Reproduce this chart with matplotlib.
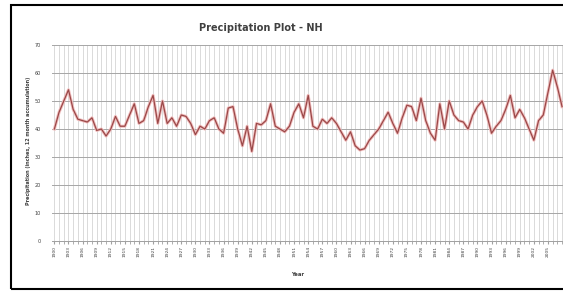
import matplotlib.pyplot as plt
import matplotlib.patches as patches
import numpy as np

# NH precipitation, 12 month accumulation (inches)
years = list(range(1900, 2009))
precip = [40, 46, 50, 54, 47, 43.5, 43, 42.5, 44, 39.5,
          40, 37.5, 40, 44.5, 41, 41, 45, 49, 42, 43,
          48, 52, 42, 50, 42, 44, 41, 45, 44.5, 42,
          38, 41, 40, 43, 44, 40, 38.5, 47.5, 48, 40,
          34, 41, 32, 42, 41.5, 43, 49, 41, 40, 39,
          41, 46, 49, 44, 52, 41, 40, 43.5, 42, 44,
          42, 39, 36, 39, 34, 32.5, 33, 36, 38, 40,
          43, 46, 42, 38.5, 44, 48.5, 48, 43, 51, 43,
          38.5, 36, 49, 40, 50, 45, 43, 42.5, 40, 45,
          48, 50, 45, 38.5, 41, 43, 47, 52, 44, 47,
          44, 40, 36, 43, 45, 53, 61, 55, 48]
yticks = [0, 10, 20, 30, 40, 50, 60, 70]

fig = plt.figure(figsize=(5.63, 2.94), dpi=100)
fig.patch.set_facecolor('white')

# outer chart border (cut off on the right)
fig.patches.append(patches.Rectangle((0.0195, 0.017), 1.2, 0.966, transform=fig.transFigure,
                                     fill=False, edgecolor='black', linewidth=1.5))

ax = fig.add_axes([0.0924, 0.180, 0.9076, 0.667])
idx = np.arange(len(years))

ax.set_xlim(-0.5, 108.2)
ax.set_ylim(0, 70)
ax.set_xticks(idx, minor=True)
lab_idx = idx[::3][idx[::3] <= 105]
ax.set_xticks(lab_idx)
ax.set_xticklabels([str(years[i]) for i in lab_idx], rotation=90, fontsize=3.2, color='#404040')
ax.set_yticks(yticks)
ax.set_yticklabels([str(v) for v in yticks], fontsize=3.5, color='#404040')

ax.grid(axis='x', which='both', color='#d4d4d4', linewidth=0.6)
ax.grid(axis='y', which='major', color='#a6a6a6', linewidth=0.7)
ax.set_axisbelow(True)

ax.tick_params(axis='x', which='both', length=2, color='#a0a0a0', pad=1.5)
ax.tick_params(axis='y', length=0, pad=8)

for s in ['top', 'right', 'left']:
    ax.spines[s].set_visible(False)
ax.spines['bottom'].set_color('#a0a0a0')
ax.spines['bottom'].set_linewidth(0.7)

ax.plot(idx, precip, color='#f0bcbc', linewidth=2.2, solid_joinstyle='round')
ax.plot(idx, precip, color='#9a4848', linewidth=0.9, solid_joinstyle='round')

fig.text(0.464, 0.905, 'Precipitation Plot - NH', ha='center', va='center',
         fontsize=7, fontweight='bold', color='#404040')
fig.text(0.05, 0.52, 'Precipitation (inches, 12 month accumulation)', rotation=90,
         ha='center', va='center', fontsize=3.5, fontweight='bold', color='#404040')
fig.text(0.529, 0.068, 'Year', ha='center', va='center', fontsize=3.8,
         fontweight='bold', color='#404040')

fig.savefig('out.png', dpi=100)
